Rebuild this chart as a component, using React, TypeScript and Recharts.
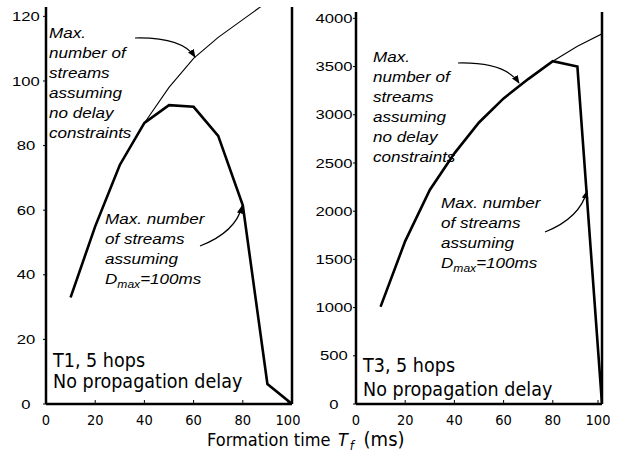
import React from "react";
import { LineChart, Line, XAxis, YAxis, ReferenceLine } from "recharts";

// formation time (ms)
const formationTimes = [10, 20, 30, 40, 50, 60, 70, 80, 90, 100];

// T1, 5 hops
const t1NoDelay = [33, 55, 74, 87, 98, 107, 113.5, 119, 124.5, 129];
const t1Dmax = [33, 55, 74, 87, 92.5, 92, 83, 61.5, 6.2, 0];

// T3, 5 hops
const t3NoDelay = [1010, 1690, 2220, 2600, 2920, 3170, 3370, 3555, 3710, 3840];
const t3Dmax = [1010, 1690, 2220, 2600, 2920, 3170, 3370, 3555, 3500, 0];

const xTicks = [0, 20, 40, 60, 80, 100];
const t1Ticks = [0, 20, 40, 60, 80, 100, 120];
const t3Ticks = [0, 500, 1000, 1500, 2000, 2500, 3000, 3500, 4000];

const t1Data = formationTimes.map((t, i) => ({ t, noDelay: t1NoDelay[i], dmax: t1Dmax[i] }));
const t3Data = formationTimes.map((t, i) => ({ t, noDelay: t3NoDelay[i], dmax: t3Dmax[i] }));

const XTick = (props: any) => {
    const { x, y, payload } = props;
    return (
        <g>
            <line x1={x} y1={y} x2={x} y2={y - 4} stroke="#000" strokeWidth={1} />
            <text
                transform={`translate(${x},${y + 20.5}) scale(0.9,1)`}
                textAnchor="middle"
                fontFamily="'DejaVu Sans', sans-serif"
                fontSize={14.5}
                fill="#000"
            >
                {payload.value}
            </text>
        </g>
    );
};

const makeYTick = (cx: number) => (props: any) => {
    const { x, y, payload } = props;
    return (
        <g>
            <line x1={x - 3} y1={y} x2={x} y2={y} stroke="#000" strokeWidth={1} />
            <text
                transform={`translate(${cx},${y}) scale(1.28,1)`}
                textAnchor="middle"
                dy="0.36em"
                fontFamily="'Liberation Sans', Arial, sans-serif"
                fontSize={13}
                fill="#000"
            >
                {payload.value}
            </text>
        </g>
    );
};

const Panel = ({ data, yMax, yTicks, top, tickCx }: any) => (
    <LineChart width={300} height={430} data={data} margin={{ top, right: 8, bottom: 6, left: 0 }}>
        <XAxis
            dataKey="t"
            type="number"
            domain={[0, 100]}
            ticks={xTicks}
            allowDataOverflow
            height={20}
            tickSize={0}
            tickMargin={0}
            tickLine={false}
            axisLine={{ stroke: "#000", strokeWidth: 2.5 }}
            tick={<XTick />}
        />
        <YAxis
            type="number"
            domain={[0, yMax]}
            ticks={yTicks}
            allowDataOverflow
            width={46}
            tickSize={0}
            tickMargin={0}
            tickLine={false}
            axisLine={{ stroke: "#000", strokeWidth: 2.5 }}
            tick={makeYTick(tickCx)}
        />
        <ReferenceLine x={100} stroke="#000" strokeWidth={2.5} />
        <Line
            type="linear"
            dataKey="noDelay"
            stroke="#000"
            strokeWidth={1.1}
            dot={false}
            isAnimationActive={false}
        />
        <Line
            type="linear"
            dataKey="dmax"
            stroke="#000"
            strokeWidth={2.6}
            dot={false}
            isAnimationActive={false}
        />
    </LineChart>
);

const annotFont = {
    fontFamily: "'Liberation Sans', Arial, sans-serif",
    fontStyle: "italic" as const,
    fontSize: 15.5,
    fill: "#000",
};

const Annot = ({ x, y, lines, dmax }: { x: number; y: number; lines: string[]; dmax?: boolean }) => (
    <text transform={`translate(${x},${y}) scale(1.1,1)`} {...annotFont}>
        {lines.map((l, i) => (
            <tspan key={i} x={0} y={i * 20}>
                {l}
            </tspan>
        ))}
        {dmax && (
            <>
                <tspan x={0} y={lines.length * 20}>D</tspan>
                <tspan fontSize={11} dy={4}>max</tspan>
                <tspan dy={-4}>=100ms</tspan>
            </>
        )}
    </text>
);

const labelFont = {
    fontFamily: "'DejaVu Sans', Tahoma, sans-serif",
    fontSize: 19,
    fill: "#000",
};

const App = () => {
    return (
        <div style={{ position: "absolute", left: 0, top: 0, width: 634, height: 458, background: "#fff" }}>
            <div style={{ position: "absolute", left: 0, top: 0 }}>
                <Panel data={t1Data} yMax={122.9} yTicks={t1Ticks} top={7} tickCx={26} />
            </div>
            <div style={{ position: "absolute", left: 310, top: 0 }}>
                <Panel data={t3Data} yMax={4066} yTicks={t3Ticks} top={12} tickCx={24} />
            </div>
            <svg
                width={634}
                height={458}
                style={{ position: "absolute", left: 0, top: 0, pointerEvents: "none" }}
            >
                <defs>
                    <marker id="head" viewBox="0 0 10 10" refX="9" refY="5" markerWidth="7" markerHeight="7" orient="auto">
                        <path d="M0,1 L10,5 L0,9 z" fill="#000" />
                    </marker>
                </defs>

                <Annot x={49} y={38} lines={["Max.", "number of", "streams", "assuming", "no delay", "constraints"]} />
                <Annot x={105} y={224} lines={["Max. number", "of streams", "assuming"]} dmax />
                <Annot x={373} y={62} lines={["Max.", "number of", "streams", "assuming", "no delay", "constraints"]} />
                <Annot x={441} y={208} lines={["Max. number", "of streams", "assuming"]} dmax />

                <path d="M135,38 Q182,37 195,57" fill="none" stroke="#000" strokeWidth={1.2} markerEnd="url(#head)" />
                <path d="M200,246 Q236,232 242,206" fill="none" stroke="#000" strokeWidth={1.2} markerEnd="url(#head)" />
                <path d="M458,63 Q505,62 519,83" fill="none" stroke="#000" strokeWidth={1.2} markerEnd="url(#head)" />
                <path d="M545,232 Q580,218 587,191" fill="none" stroke="#000" strokeWidth={1.2} markerEnd="url(#head)" />

                <text transform="translate(53,366.7) scale(0.925,1)" {...labelFont}>
                    <tspan x={0} y={0}>T1, 5 hops</tspan>
                    <tspan x={0} y={21.6}>No propagation delay</tspan>
                </text>
                <text transform="translate(363,371.7) scale(0.925,1)" {...labelFont}>
                    <tspan x={0} y={0}>T3, 5 hops</tspan>
                    <tspan x={0} y={24.3}>No propagation delay</tspan>
                </text>

                <text transform="translate(207,446) scale(0.9,1)" {...labelFont} fontSize={18}>
                    <tspan x={0}>Formation time</tspan>
                    <tspan x={145.6} fontStyle="italic">T</tspan>
                    <tspan x={158.5} fontStyle="italic" fontSize={13} dy={4}>f</tspan>
                    <tspan x={174} dy={-4} fontSize={20}>(ms)</tspan>
                </text>
            </svg>
        </div>
    );
};

export default App;
